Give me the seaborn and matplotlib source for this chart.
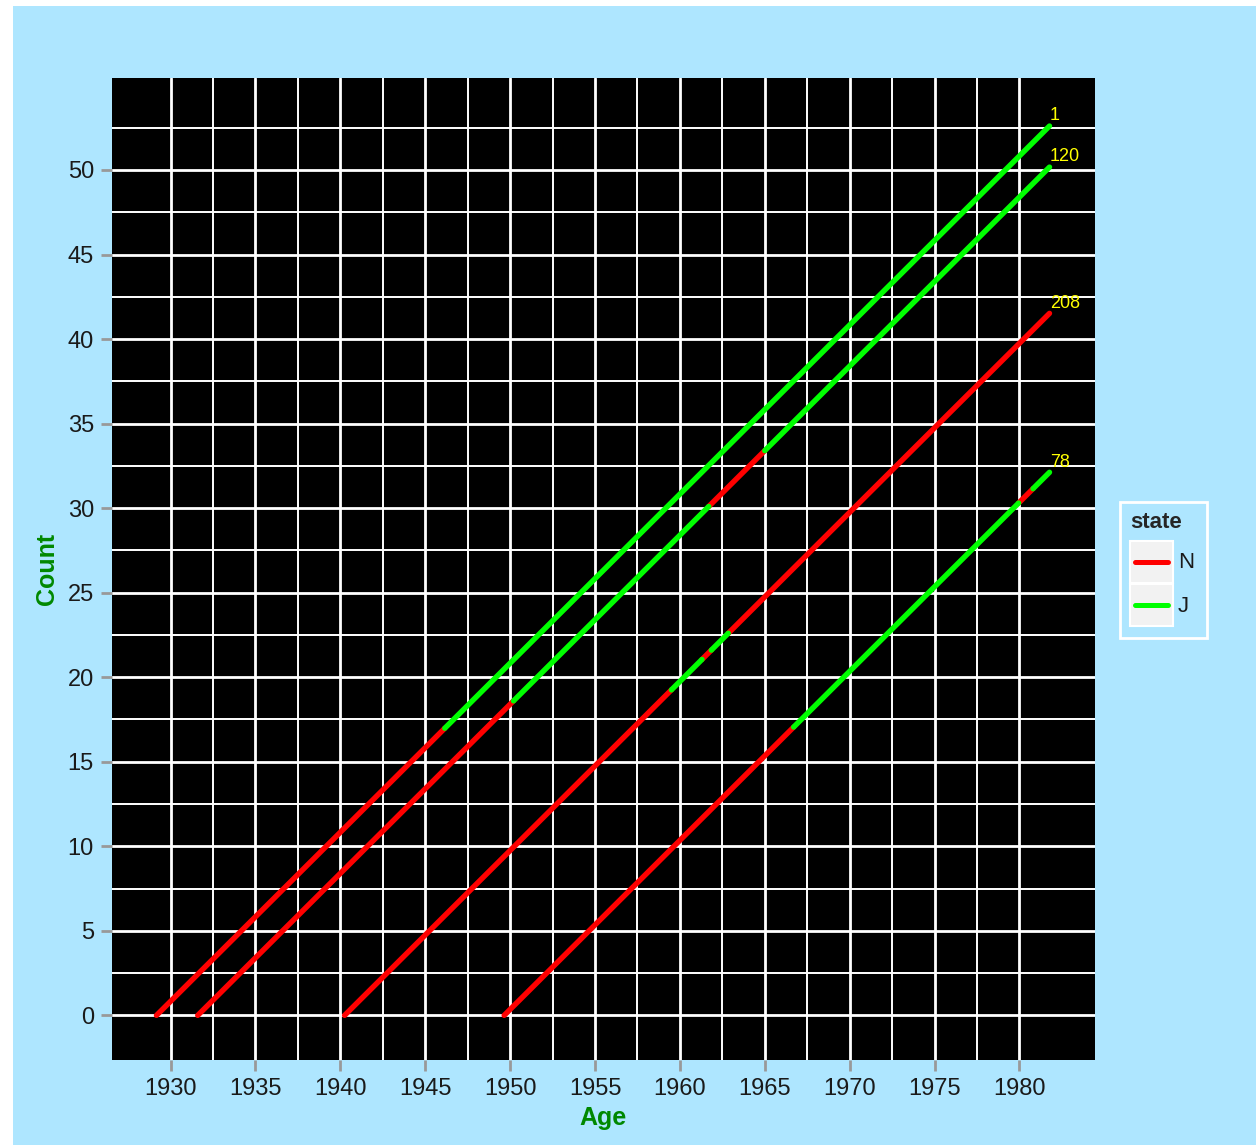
import numpy as np
import pandas as pd
import matplotlib
matplotlib.use("Agg")
import matplotlib.pyplot as plt
from matplotlib.patches import Rectangle
from matplotlib.ticker import FixedLocator
import seaborn as sns

# each person: birth year, years where state switches, state of each stretch
ids = ["1", "120", "208", "78"]
births = [1929.17, 1931.6, 1940.25, 1949.65]
switches = [
    [1946.15],
    [1950.2, 1961.7, 1965.0],
    [1959.5, 1961.3, 1961.85, 1962.85],
    [1966.7, 1979.95, 1980.8],
]
states = [
    ["N", "J"],
    ["N", "J", "N", "J"],
    ["N", "J", "N", "J", "N"],
    ["N", "J", "N", "J"],
]
end_year = 1981.77

x_major = [1930, 1935, 1940, 1945, 1950, 1955, 1960, 1965, 1970, 1975, 1980]
x_minor = [1932.5, 1937.5, 1942.5, 1947.5, 1952.5, 1957.5, 1962.5, 1967.5, 1972.5, 1977.5]
y_major = [0, 5, 10, 15, 20, 25, 30, 35, 40, 45, 50]
y_minor = [2.5, 7.5, 12.5, 17.5, 22.5, 27.5, 32.5, 37.5, 42.5, 47.5, 52.5]

palette = {"N": "#FF0000", "J": "#00FF00"}
bg = "#AEE6FF"

rows = []
seg = 0
for pid, b, sw, st in zip(ids, births, switches, states):
    edges = [b] + sw + [end_year]
    for i, s in enumerate(st):
        for yr in (edges[i], edges[i + 1]):
            rows.append({"id": pid, "seg": seg, "year": yr, "count": yr - b, "state": s})
        seg += 1
df = pd.DataFrame(rows)

sns.set_style("dark")
plt.rcParams["font.family"] = ["Liberation Sans", "DejaVu Sans"]

fig = plt.figure(figsize=(12.56, 11.45), dpi=100)
fig.patch.set_facecolor("white")
fig.patches.append(Rectangle((13 / 1256, 0), 1 - 13 / 1256, 1 - 6 / 1145,
                             transform=fig.transFigure, facecolor=bg,
                             edgecolor="none", zorder=-10))

ax = fig.add_axes([112 / 1256, 1 - 1060 / 1145, (1095 - 112) / 1256, (1060 - 78) / 1145])
ax.set_facecolor("black")

sns.lineplot(data=df, x="year", y="count", hue="state", units="seg",
             estimator=None, palette=palette, hue_order=["N", "J"],
             linewidth=3.9, ax=ax, legend=False, zorder=3)

for pid, b in zip(ids, births):
    ax.text(end_year + 0.02, end_year - b + 0.1, pid, color="yellow",
            fontsize=13, ha="left", va="bottom", zorder=4)

ax.set_xlim(1926.55, 1984.45)
ax.set_ylim(-2.64, 55.44)
ax.xaxis.set_major_locator(FixedLocator(x_major))
ax.xaxis.set_minor_locator(FixedLocator(x_minor))
ax.yaxis.set_major_locator(FixedLocator(y_major))
ax.yaxis.set_minor_locator(FixedLocator(y_minor))
ax.grid(which="major", color="white", linewidth=2.0, zorder=1)
ax.grid(which="minor", color="white", linewidth=1.4, zorder=1)
ax.set_axisbelow(True)
for s in ax.spines.values():
    s.set_visible(False)
ax.tick_params(which="major", length=8, width=2, color="#999999",
               labelsize=17, labelcolor="#1a1a1a", pad=5, bottom=True, left=True)
ax.tick_params(which="minor", length=0)

ax.set_xlabel("Age", color="#008800", fontsize=18, fontweight="bold", labelpad=4)
ax.set_ylabel("Count", color="#008800", fontsize=18, fontweight="bold", labelpad=6)

# legend drawn by hand to mimic the keyed boxes
def fx(px):
    return px / 1256

def fy(py):
    return 1 - py / 1145

fig.patches.append(Rectangle((fx(1120), fy(638)), fx(1207) - fx(1120), fy(502) - fy(638),
                             transform=fig.transFigure, facecolor=bg,
                             edgecolor="white", linewidth=2, zorder=5))
fig.text(fx(1130), fy(523), "state", fontsize=16, fontweight="bold",
         va="center", ha="left", zorder=6)
for i, (lab, col) in enumerate([("N", palette["N"]), ("J", palette["J"])]):
    top = 541 + i * 43
    fig.patches.append(Rectangle((fx(1130), fy(top + 42)), fx(1173) - fx(1130), fy(top) - fy(top + 42),
                                 transform=fig.transFigure, facecolor="#F2F2F2",
                                 edgecolor="white", linewidth=1.5, zorder=6))
    fig.lines.append(plt.Line2D([fx(1135), fx(1168)], [fy(top + 21)] * 2,
                                transform=fig.transFigure, color=col,
                                linewidth=3.6, zorder=7))
    fig.text(fx(1178), fy(top + 22), lab, fontsize=16, va="center", ha="left",
             color="#1a1a1a", zorder=7)

fig.savefig("out.png", dpi=100, facecolor=fig.get_facecolor())
